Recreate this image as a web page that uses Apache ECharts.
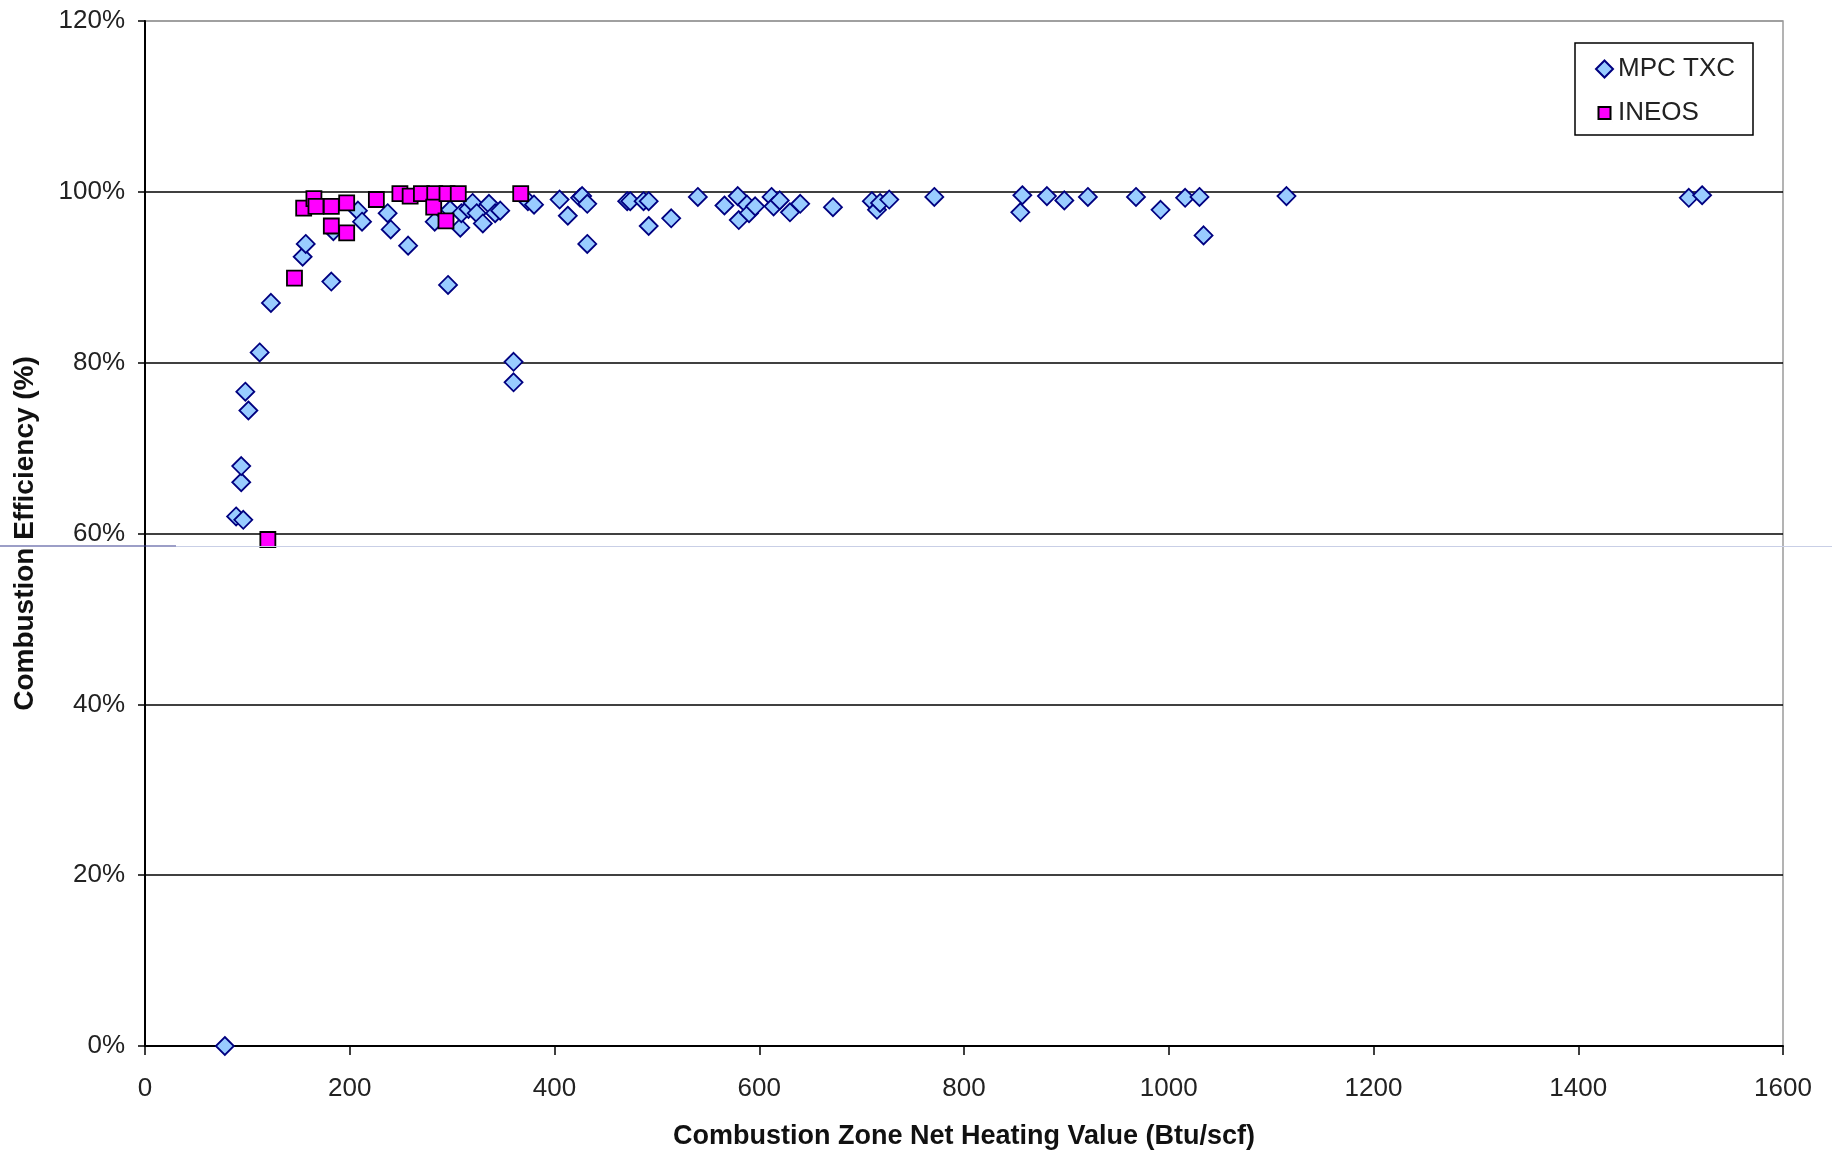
<!DOCTYPE html>
<html>
<head>
<meta charset="utf-8">
<script src="https://cdn.jsdelivr.net/npm/echarts@6/dist/echarts.min.js"></script>
<style>
html,body{margin:0;padding:0;background:#fff;}
#chart{width:1832px;height:1155px;}
</style>
</head>
<body>
<div id="chart"></div>
<script>
// MPC TXC: [net heating value (Btu/scf), combustion efficiency (%)]
var mpcX = [78, 89, 96, 94, 94, 101, 98, 112, 123, 154, 157, 182, 184, 208, 212, 237, 240, 257, 283, 296,
            298, 308, 309, 316, 320, 324, 330, 336, 342, 347, 360, 360, 374, 380, 405, 413, 425, 427, 432, 432,
            471, 474, 487, 492, 492, 514, 540, 566, 579, 580, 588, 590, 596, 612, 614, 620, 630, 640, 672, 710,
            715, 718, 727, 771, 857, 855, 881, 898, 921, 968, 992, 1016, 1030, 1034, 1115, 1508, 1521];
var mpcY = [0, 62.0, 61.6, 66.0, 67.9, 74.4, 76.6, 81.2, 87.0, 92.4, 93.9, 89.5, 95.4, 97.8, 96.5, 97.5, 95.6, 93.7, 96.5, 89.1,
            97.9, 95.8, 97.5, 98.0, 98.7, 97.5, 96.3, 98.6, 97.5, 97.8, 80.1, 77.7, 98.9, 98.5, 99.1, 97.2, 99.3, 99.5, 98.6, 93.9,
            98.9, 98.9, 98.9, 98.9, 96.0, 96.9, 99.4, 98.4, 99.5, 96.7, 98.5, 97.5, 98.3, 99.4, 98.3, 99.0, 97.6, 98.6, 98.2, 98.9,
            97.9, 98.7, 99.1, 99.4, 99.6, 97.6, 99.5, 99.0, 99.4, 99.4, 97.9, 99.3, 99.4, 94.9, 99.5, 99.3, 99.6];
// INEOS
var ineosX = [120, 146, 155, 165, 167, 182, 182, 197, 197, 226, 249, 259, 270, 283, 282, 295, 306, 294, 367];
var ineosY = [59.3, 89.9, 98.1, 99.2, 98.3, 98.3, 96.0, 98.7, 95.2, 99.1, 99.8, 99.5, 99.8, 99.8, 98.2, 99.8, 99.8, 96.6, 99.8];

var seriesNames = ['MPC TXC', 'INEOS'];
var xTitle = 'Combustion Zone Net Heating Value (Btu/scf)';
var yTitle = 'Combustion Efficiency (%)';

function pairs(xs, ys) { return xs.map(function (x, i) { return [x, ys[i]]; }); }

var FONT = '"Liberation Sans", Arial, sans-serif';
var chart = echarts.init(document.getElementById('chart'), null, {renderer: 'canvas'});
chart.setOption({
  animation: false,
  backgroundColor: '#fff',
  grid: {left: 145, right: 49, top: 21, bottom: 108, show: true, borderColor: '#9a9a9a', borderWidth: 1.5, containLabel: false},
  legend: {
    orient: 'vertical', left: 1575, top: 43,
    padding: [13, 18, 9, 20],
    itemGap: 18, itemWidth: 17, itemHeight: 17, itemTextGap: 4,
    backgroundColor: '#fff', borderColor: '#000', borderWidth: 1.5, borderRadius: 0,
    textStyle: {fontFamily: FONT, fontSize: 26, color: '#222'},
    data: [
      {name: seriesNames[0], icon: 'diamond'},
      {name: seriesNames[1], icon: 'path://M0,0L0.01,0M2.5,2.5L14.5,2.5L14.5,14.5L2.5,14.5Z M17,17L16.99,17'}
    ]
  },
  xAxis: {
    type: 'value', min: 0, max: 1600, interval: 200,
    name: xTitle, nameLocation: 'middle', nameGap: 77,
    nameTextStyle: {fontFamily: FONT, fontSize: 27, fontWeight: 'bold', color: '#111'},
    axisLine: {show: true, lineStyle: {color: '#000', width: 2}},
    axisTick: {show: true, length: 9, lineStyle: {color: '#000', width: 1.5}},
    axisLabel: {fontFamily: FONT, fontSize: 26, color: '#222', margin: 30, formatter: function (v) { return String(v); }},
    splitLine: {show: false}
  },
  yAxis: {
    type: 'value', min: 0, max: 120, interval: 20,
    name: yTitle, nameLocation: 'middle', nameGap: 106, nameRotate: 90,
    nameTextStyle: {fontFamily: FONT, fontSize: 28, fontWeight: 'bold', color: '#111'},
    axisLine: {show: true, lineStyle: {color: '#000', width: 2}},
    axisTick: {show: true, inside: false, length: 7, lineStyle: {color: '#000', width: 1.5}},
    axisLabel: {fontFamily: FONT, fontSize: 26, color: '#222', margin: 20, formatter: '{value}%'},
    splitLine: {show: true, lineStyle: {color: ['#000', '#000', '#000', '#000', '#000', '#000', '#9a9a9a'], width: 1.5}}
  },
  graphic: [
    {type: 'line', shape: {x1: 0, y1: 546, x2: 176, y2: 546}, style: {stroke: '#3a3f8f', lineWidth: 1.2}, z: 100},
    {type: 'line', shape: {x1: 176, y1: 546.5, x2: 1832, y2: 546.5}, style: {stroke: '#c9cfe6', lineWidth: 1.2}, z: 100}
  ],
  series: [
    {
      name: seriesNames[0], type: 'scatter', symbol: 'diamond', symbolSize: 18,
      itemStyle: {color: '#99CCFF', borderColor: '#000080', borderWidth: 1.8, opacity: 1},
      data: pairs(mpcX, mpcY), z: 2
    },
    {
      name: seriesNames[1], type: 'scatter', symbol: 'rect', symbolSize: 15,
      itemStyle: {color: '#FF00FF', borderColor: '#000', borderWidth: 1.8, opacity: 1},
      data: pairs(ineosX, ineosY), z: 3
    }
  ]
});
</script>
</body>
</html>
